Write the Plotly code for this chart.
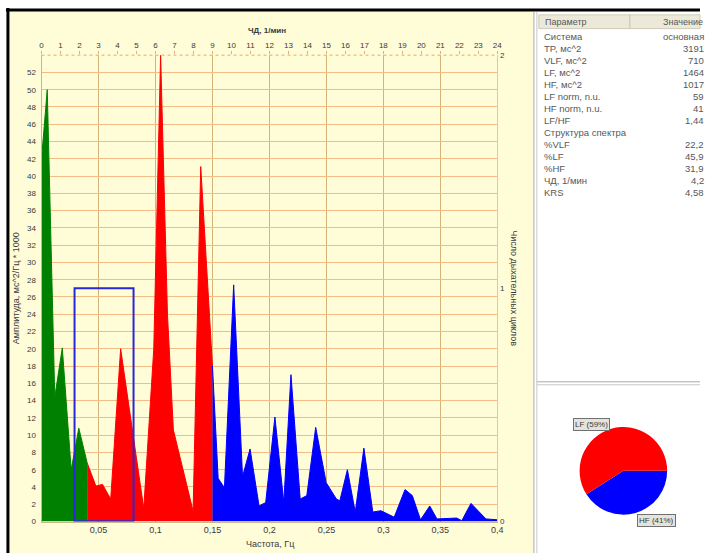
import plotly.graph_objects as go

# ---------------- data ----------------
freq_hz = [0.000, 0.005, 0.0116, 0.0182, 0.026, 0.0327, 0.040, 0.0477, 0.0535, 0.0607,
           0.0694, 0.0897, 0.0985, 0.1045, 0.1105, 0.1157, 0.133, 0.1397, 0.150, 0.155,
           0.1605, 0.1686, 0.1764, 0.183, 0.1909, 0.1967, 0.2048, 0.2126, 0.2189, 0.227,
           0.2328, 0.2406, 0.2498, 0.2588, 0.2618, 0.2684, 0.2753, 0.2829, 0.2907, 0.2979,
           0.3095, 0.319, 0.3254, 0.3326, 0.3407, 0.347, 0.3644, 0.3688, 0.3769, 0.390, 0.400]
amplitude = [42, 50, 14.4, 20.1, 6.0, 10.8, 6.8, 4.1, 4.3, 2.6,
             20.0, 1.5, 20.0, 54.0, 24.0, 10.6, 1.2, 41.1, 18.0, 5.0,
             3.9, 27.4, 5.2, 8.4, 1.8, 2.2, 12.1, 2.2, 17.0, 2.6,
             3.0, 10.9, 4.5, 2.6, 2.4, 6.0, 1.1, 8.5, 1.1, 1.25,
             0.5, 3.7, 3.0, 0.2, 1.8, 0.3, 0.4, 0.1, 2.1, 0.3, 0.2]
band_edges = [0.0, 0.04, 0.15, 0.4]          # VLF | LF | HF
band_colors = ["#008000", "#FF0000", "#0000FF"]

resp_bin_center = [3.3]      # ЧД, 1/мин
resp_bin_width = [3.1]
resp_counts = [1]

x_tickvals = [0, 0.05, 0.1, 0.15, 0.2, 0.25, 0.3, 0.35, 0.4]
x_ticktext = ["", "0,05", "0,1", "0,15", "0,2", "0,25", "0,3", "0,35", "0,4"]
y_tickvals = list(range(0, 53, 2))
top_tickvals = list(range(0, 25))

table_params = ["Система", "TP, мс^2", "VLF, мс^2", "LF, мс^2", "HF, мс^2", "LF norm, n.u.",
                "HF norm, n.u.", "LF/HF", "Структура спектра", "%VLF", "%LF", "%HF",
                "ЧД, 1/мин", "KRS"]
table_values = ["основная", "3191", "710", "1464", "1017", "59", "41", "1,44", "",
                "22,2", "45,9", "31,9", "4,2", "4,58"]

pie_labels = ["HF", "LF"]
pie_values = [41, 59]
pie_colors = ["#0000FF", "#FF0000"]

# ---------------- helpers ----------------
W, H = 706, 558
def px(x): return x / W
def py(y): return 1 - y / H

FONT = "Liberation Sans, Arial, sans-serif"
TXT = "#3a3a3a"

fig = go.Figure()

# spectrum areas, one per band
for i in range(3):
    lo, hi = band_edges[i], band_edges[i + 1]
    xs = [f for f in freq_hz if lo <= f <= hi]
    ys = [a for f, a in zip(freq_hz, amplitude) if lo <= f <= hi]
    fig.add_trace(go.Scatter(x=xs, y=ys, mode="lines", fill="tozeroy",
                             line=dict(color=band_colors[i], width=1),
                             fillcolor=band_colors[i], hoverinfo="skip",
                             showlegend=False, xaxis="x", yaxis="y"))

# respiration histogram (outline only)
fig.add_trace(go.Bar(x=resp_bin_center, y=resp_counts, width=resp_bin_width,
                     marker=dict(color="rgba(0,0,0,0)", line=dict(color="#2828D8", width=2)),
                     showlegend=False, xaxis="x2", yaxis="y2"))

# pie
fig.add_trace(go.Pie(labels=pie_labels, values=pie_values, sort=False,
                     direction="clockwise", rotation=90,
                     marker=dict(colors=pie_colors, line=dict(width=0)),
                     textinfo="none", showlegend=False,
                     domain=dict(x=[px(584), px(673)], y=[py(519), py(430)])))

grid_h = "#F2BC84"
grid_v = "#D6B478"

fig.update_layout(
    width=W, height=H, autosize=False,
    margin=dict(l=0, r=0, t=0, b=0),
    paper_bgcolor="white", plot_bgcolor="#FFFCD8",
    font=dict(family=FONT, size=8, color=TXT),
    bargap=0,
    xaxis=dict(domain=[px(40), px(501)], range=[0, 0.4], tickvals=x_tickvals,
               ticktext=x_ticktext, showgrid=True, gridcolor=grid_v, gridwidth=1,
               zeroline=False, showline=True, linecolor="#C8B890", ticks="",
               tickfont=dict(size=9), anchor="y", fixedrange=True),
    yaxis=dict(domain=[py(526), py(52)], range=[0, 54], tickvals=y_tickvals,
               showgrid=True, gridcolor=grid_h, gridwidth=1, zeroline=False,
               showline=True, linecolor=grid_v, ticks="", ticklabelstandoff=3,
               anchor="x", fixedrange=True),
    xaxis2=dict(overlaying="x", side="top", range=[0, 24], tickvals=top_tickvals,
                showgrid=False, zeroline=False, showline=False, ticks="outside",
                ticklen=3, tickcolor="#E8B070", anchor="y", fixedrange=True),
    yaxis2=dict(overlaying="y", side="right", range=[0, 2], tickvals=[0, 1, 2],
                showgrid=False, zeroline=False, showline=True, linecolor="#E8C890",
                ticks="", anchor="x", fixedrange=True),
)

shapes = []
# left panel background (cream)
shapes.append(dict(type="rect", xref="paper", yref="paper", x0=px(7), x1=px(537),
                   y0=py(558), y1=py(7), fillcolor="#FFFCD8", line=dict(width=0), layer="below"))
# black frame top / left
shapes.append(dict(type="line", xref="paper", yref="paper", x0=px(4), x1=px(706),
                   y0=py(6), y1=py(6), line=dict(color="black", width=3)))
shapes.append(dict(type="line", xref="paper", yref="paper", x0=px(6), x1=px(6),
                   y0=py(4), y1=py(558), line=dict(color="black", width=3)))
# panel separators
for xx, c in [(538, "#A8A8A8"), (541, "#C8C8C8")]:
    shapes.append(dict(type="line", xref="paper", yref="paper", x0=px(xx), x1=px(xx),
                       y0=py(8), y1=py(558), line=dict(color=c, width=1)))
for yy, c in [(384, "#A8A8A8"), (387, "#C8C8C8")]:
    shapes.append(dict(type="line", xref="paper", yref="paper", x0=px(541), x1=px(706),
                       y0=py(yy), y1=py(yy), line=dict(color=c, width=1)))
# dotted top border of chart
shapes.append(dict(type="line", xref="paper", yref="paper", x0=px(40), x1=px(501),
                   y0=py(52), y1=py(52), line=dict(color="#E8A868", width=1, dash="dot")))
# table header
shapes.append(dict(type="rect", xref="paper", yref="paper", x0=px(543), x1=px(706),
                   y0=py(25), y1=py(11), fillcolor="#ECE9D8", line=dict(color="#D0CCB8", width=1)))
shapes.append(dict(type="line", xref="paper", yref="paper", x0=px(635), x1=px(635),
                   y0=py(25), y1=py(11), line=dict(color="#C8C4B0", width=1)))
fig.update_layout(shapes=shapes)

ann = []
def text(x, y, s, size=8, xa="center", ang=0, color=TXT, **kw):
    ann.append(dict(xref="paper", yref="paper", x=px(x), y=py(y), text=s, showarrow=False,
                    xanchor=xa, yanchor="middle", textangle=ang,
                    font=dict(size=size, color=color, family=FONT), **kw))

text(268, 27, "<b>ЧД, 1/мин</b>", size=8)
text(271, 549, "Частота, Гц", size=9)
text(15, 289, "Амплитуда, мс^2/Гц * 1000", size=9, ang=-90)
text(518, 289, "Число дыхательных циклов", size=9, ang=90)

# table
TBL = "#585858"
text(547, 18, "Параметр", size=9, xa="left", color=TBL)
text(667, 18, "Значение", size=9, xa="left", color=TBL)
for i, (p, v) in enumerate(zip(table_params, table_values)):
    yy = 33 + i * 12.2
    text(546, yy, p, size=9.5, xa="left", color=TBL)
    if v:
        text(712, yy, v, size=9.5, xa="right", color=TBL)

# pie labels
text(596, 427, "LF (59%)", size=8, bgcolor="#E4E4DC", bordercolor="#707070", borderwidth=1, borderpad=1)
text(662, 525, "HF (41%)", size=8, bgcolor="#E4E4DC", bordercolor="#707070", borderwidth=1, borderpad=1)

fig.update_layout(annotations=ann)

fig.write_html("out.html")
